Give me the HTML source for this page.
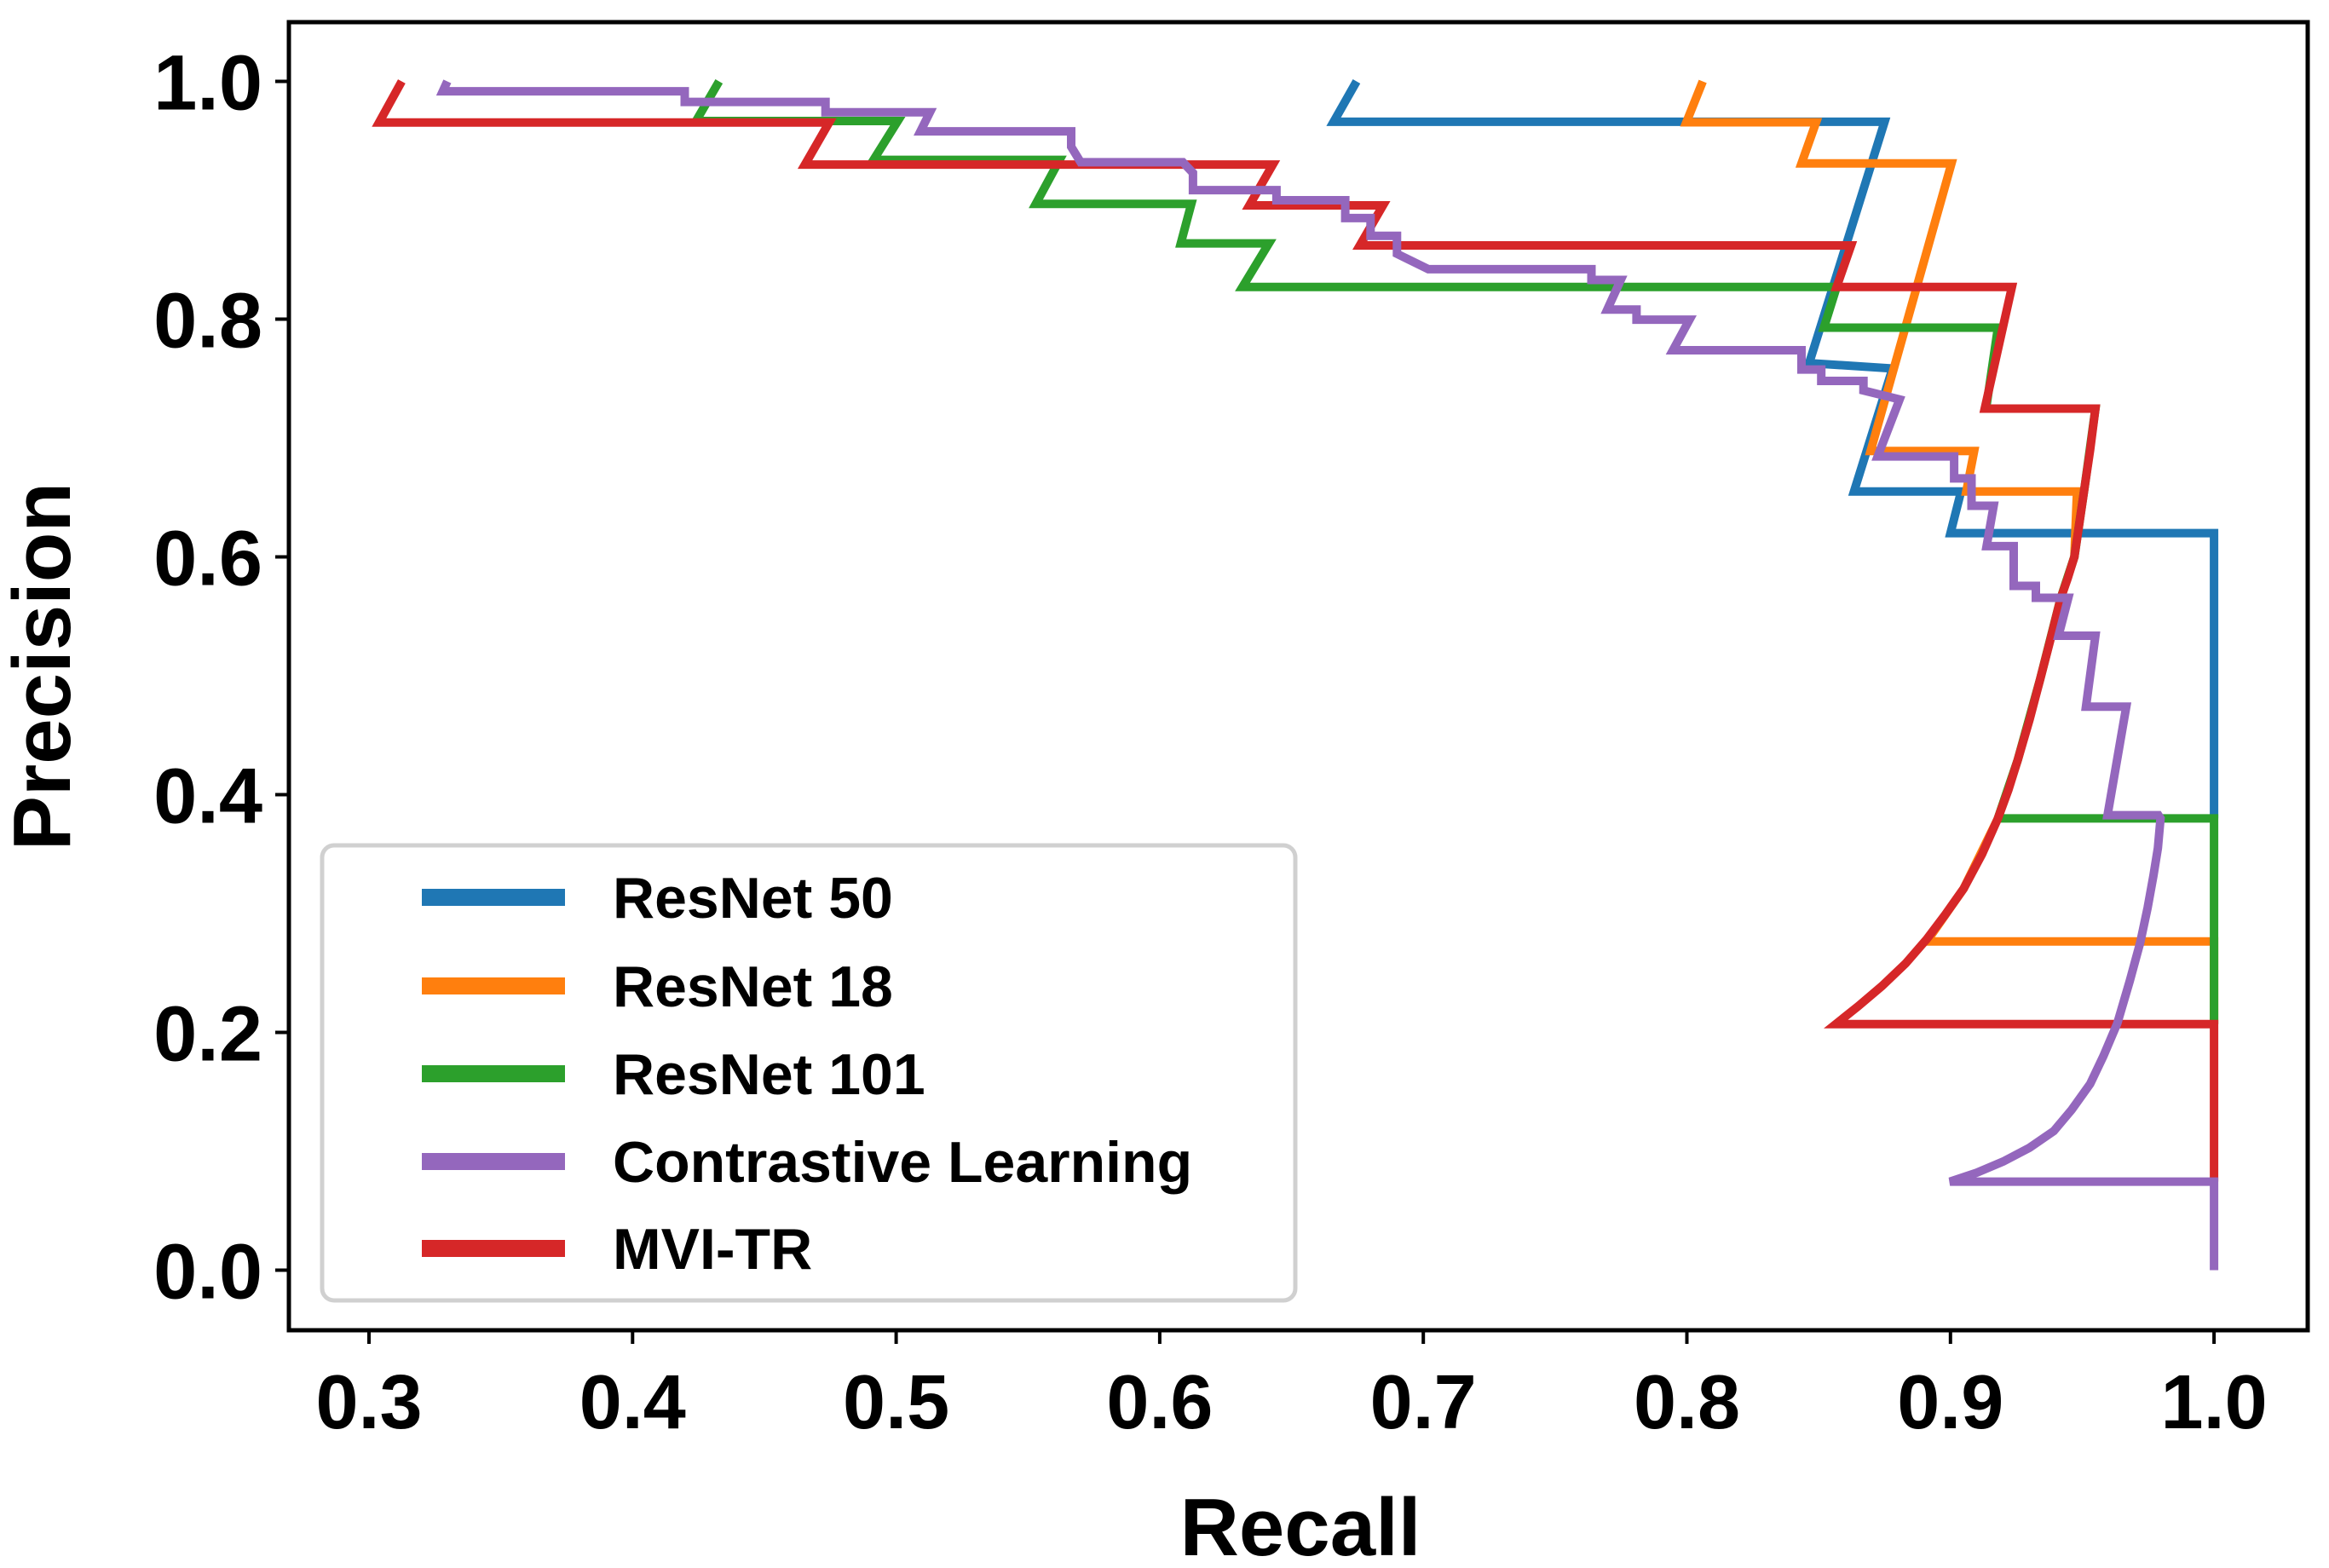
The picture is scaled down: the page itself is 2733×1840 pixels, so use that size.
<!DOCTYPE html>
<html><head><meta charset="utf-8"><style>
html,body{margin:0;padding:0;background:#fff;}
svg{display:block;font-family:"Liberation Sans",Arial,sans-serif;font-weight:bold;}
</style></head><body>
<svg id="chart" width="2733" height="1840" viewBox="0 0 2733 1840" xmlns="http://www.w3.org/2000/svg">
<rect x="0" y="0" width="2733" height="1840" fill="#fff"/>
<g id="series"></g>
<g id="axes"></g>
<g id="legend"></g>
</svg>
<script>
const xTicks = [0.3,0.4,0.5,0.6,0.7,0.8,0.9,1.0];
const xTickLabels = ["0.3","0.4","0.5","0.6","0.7","0.8","0.9","1.0"];
const yTicks = [0.0,0.2,0.4,0.6,0.8,1.0];
const yTickLabels = ["0.0","0.2","0.4","0.6","0.8","1.0"];
const seriesNames = ["ResNet 50","ResNet 18","ResNet 101","Contrastive Learning","MVI-TR"];
const seriesColors = ["#1f77b4","#ff7f0e","#2ca02c","#9467bd","#d62728"];

const resnet50R = [0.6747,0.666,0.875,0.8464,0.878,0.8634,0.904,0.900,1.0,1.0];
const resnet50P = [1.0,0.966,0.966,0.763,0.7585,0.655,0.655,0.620,0.620,0.380];

const resnet18R = [0.806,0.7998,0.849,0.8435,0.9004,0.8697,0.909,0.906,0.948,0.947,0.9418,0.934,0.9255,0.918,0.905,0.891,1.0,1.0];
const resnet18P = [1.0,0.9656,0.9656,0.931,0.931,0.689,0.689,0.655,0.655,0.60,0.565,0.497,0.429,0.380,0.321,0.2765,0.2765,0.207];

const resnet101R = [0.4328,0.4241,0.5006,0.4914,0.562,0.553,0.612,0.608,0.6414,0.6314,0.8568,0.852,0.918,0.9135,0.955,0.951,0.947,0.9418,0.934,0.9255,0.918,1.0,1.0];
const resnet101P = [1.0,0.9667,0.9667,0.934,0.934,0.897,0.897,0.8637,0.8637,0.827,0.827,0.7928,0.7928,0.7247,0.7247,0.66,0.60,0.565,0.497,0.429,0.380,0.380,0.207];

const contrastR = [0.3297,0.328,0.4198,0.4198,0.4732,0.4732,0.5128,0.5092,0.5664,0.5664,0.57,0.6088,0.6126,0.6126,0.6443,0.6443,0.6704,0.6704,0.68,0.68,0.69,0.69,0.7019,0.7638,0.7638,0.7749,0.7698,0.7809,0.7809,0.801,0.7947,0.8435,0.8435,0.851,0.851,0.867,0.867,0.8807,0.8724,0.9014,0.9014,0.908,0.908,0.9164,0.9137,0.924,0.924,0.9324,0.9324,0.9447,0.941,0.955,0.9514,0.9667,0.9596,0.9789,0.9797,0.9787,0.977,0.9748,0.972,0.968,0.9633,0.958,0.953,0.946,0.9392,0.930,0.920,0.910,0.8998,1.0,1.0];
const contrastP = [1.0,0.9917,0.9917,0.9827,0.9827,0.974,0.974,0.958,0.958,0.945,0.932,0.932,0.923,0.9085,0.9085,0.900,0.900,0.885,0.885,0.870,0.870,0.855,0.842,0.842,0.833,0.833,0.808,0.808,0.7996,0.7996,0.7738,0.7738,0.7576,0.7576,0.748,0.748,0.740,0.7325,0.6845,0.6845,0.666,0.666,0.643,0.643,0.609,0.609,0.5756,0.5756,0.5656,0.5656,0.5337,0.5337,0.474,0.474,0.3827,0.3827,0.380,0.355,0.332,0.305,0.2756,0.243,0.2077,0.180,0.1566,0.135,0.117,0.103,0.0914,0.082,0.0745,0.0745,0.0];

const mviR = [0.3124,0.3038,0.4746,0.4654,0.6429,0.634,0.6847,0.6759,0.8623,0.8568,0.9233,0.913,0.955,0.953,0.951,0.949,0.947,0.9445,0.9418,0.938,0.934,0.930,0.9255,0.922,0.918,0.912,0.905,0.898,0.891,0.883,0.874,0.865,0.8565,1.0,1.0];
const mviP = [1.0,0.9654,0.9654,0.930,0.930,0.8957,0.8957,0.862,0.862,0.827,0.827,0.7247,0.7247,0.69,0.66,0.63,0.60,0.582,0.565,0.531,0.497,0.463,0.429,0.404,0.380,0.350,0.321,0.299,0.2785,0.258,0.239,0.222,0.207,0.207,0.0745];

const X0 = 433, XPER = 3093;
const Y0 = 1490.5, YPER = 1395;
function sx(r){ return X0 + (r - 0.3) * XPER; }
function sy(p){ return Y0 - p * YPER; }

const NS = "http://www.w3.org/2000/svg";
function mk(tag, attrs, parent){
  const e = document.createElementNS(NS, tag);
  for (const k in attrs) e.setAttribute(k, attrs[k]);
  parent.appendChild(e);
  return e;
}

const seriesG = document.getElementById('series');
const drawOrder = [
  [resnet50R, resnet50P, 0, 'resnet50-line'],
  [resnet18R, resnet18P, 1, 'resnet18-line'],
  [resnet101R, resnet101P, 2, 'resnet101-line'],
  [mviR, mviP, 4, 'mvi-tr-line'],
  [contrastR, contrastP, 3, 'contrastive-learning-line']
];
drawOrder.forEach(function(s){
  const pts = s[0].map(function(r,i){ return sx(r).toFixed(1)+','+sy(s[1][i]).toFixed(1); }).join(' ');
  const pl = mk('polyline', {points: pts, fill:'none', stroke: seriesColors[s[2]], 'stroke-width': 10, 'stroke-linejoin':'miter', 'stroke-linecap':'butt'}, seriesG);
  
  
});

const axesG = document.getElementById('axes');
const frame = mk('rect', {x:339, y:26, width:2708-339, height:1561-26, fill:'none', stroke:'#000', 'stroke-width':5}, axesG);


xTicks.forEach(function(t,i){
  const ln = mk('line', {x1:sx(t), x2:sx(t), y1:1561, y2:1577, stroke:'#000', 'stroke-width':4}, axesG);
  
  
  const tx = mk('text', {x:sx(t), y:1676, 'font-size':90, 'text-anchor':'middle', fill:'#000'}, axesG);
  tx.textContent = xTickLabels[i];
  
  
});
yTicks.forEach(function(t,i){
  const ln = mk('line', {x1:323, x2:339, y1:sy(t), y2:sy(t), stroke:'#000', 'stroke-width':4}, axesG);
  
  
  const tx = mk('text', {x:308, y:sy(t)+33, 'font-size':92, 'text-anchor':'end', fill:'#000'}, axesG);
  tx.textContent = yTickLabels[i];
  
  
});
const xt = mk('text', {x:1526, y:1825, 'font-size':96, 'text-anchor':'middle', fill:'#000'}, axesG);
xt.textContent = 'Recall';


const yt = mk('text', {x:0, y:0, 'font-size':96, 'text-anchor':'middle', fill:'#000', transform:'translate(82,782) rotate(-90)'}, axesG);
yt.textContent = 'Precision';



const legG = document.getElementById('legend');
const lb = mk('rect', {x:378, y:992, width:1142, height:534, rx:14, ry:14, fill:'#fff', 'fill-opacity':0.85, stroke:'#d0d0d0', 'stroke-width':5}, legG);


const rowY = [1053, 1157, 1260, 1363, 1465];
const legOrder = [0,1,2,3,4];
legOrder.forEach(function(ci, i){
  const ln = mk('line', {x1:495, x2:663, y1:rowY[i], y2:rowY[i], stroke:seriesColors[ci], 'stroke-width':20}, legG);
  
  
  const tx = mk('text', {x:719, y:rowY[i]+24, 'font-size':68, fill:'#000'}, legG);
  tx.textContent = seriesNames[ci];
  
  
});
</script>
</body></html>
